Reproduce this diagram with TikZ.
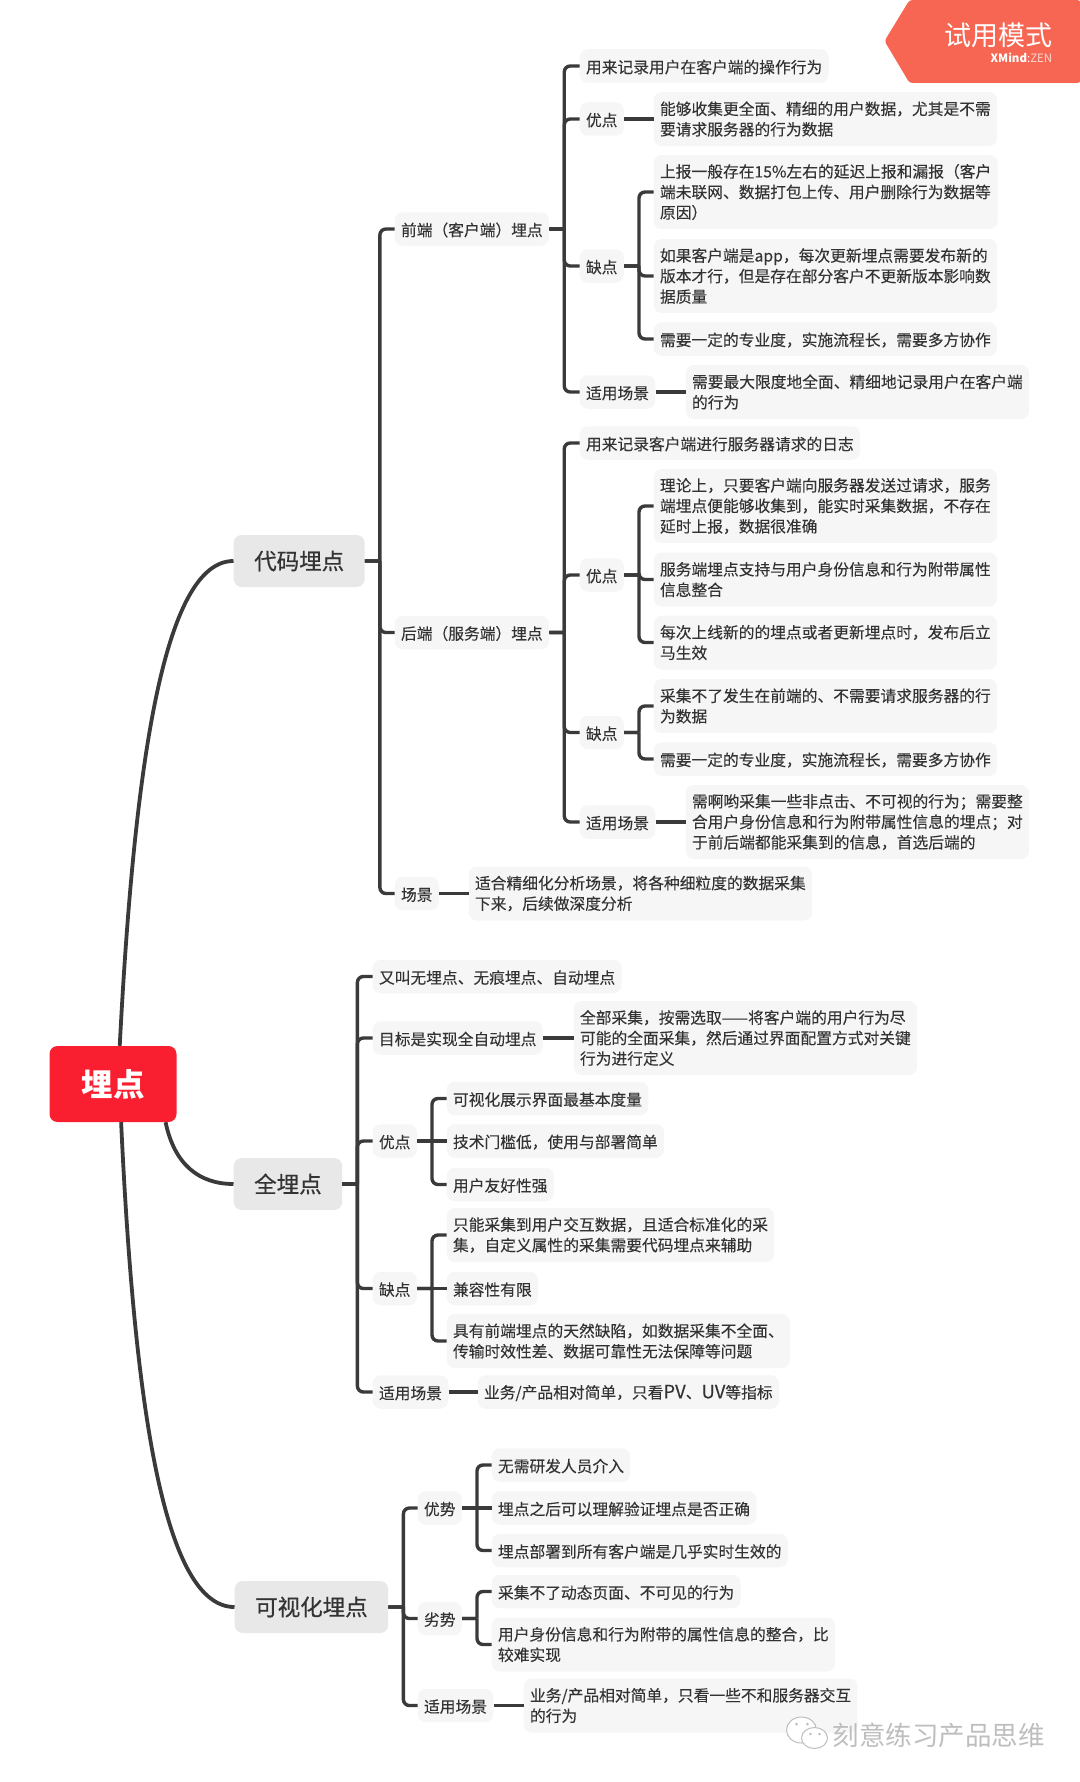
\documentclass[tikz,border=0pt]{standalone}
\usepackage{fontspec}
\setmainfont[FakeBold=0.12]{Noto Sans CJK SC}
\newfontfamily\titlefont[FakeBold=0.6]{Noto Sans CJK SC}
\newfontfamily\plainfont{Noto Sans CJK SC}
\usetikzlibrary{arrows.meta}

\definecolor{inkgray}{HTML}{333333}
\definecolor{linegray}{HTML}{3A3A3A}
\definecolor{leafgray}{HTML}{F7F6F7}
\definecolor{branchgray}{HTML}{E8E8E8}
\definecolor{rootred}{HTML}{FA1F30}
\definecolor{badgered}{HTML}{F66652}
\definecolor{markgray}{HTML}{BEBEBE}

\tikzset{
  leaf/.style={fill=leafgray, text=inkgray, rounded corners=8pt, anchor=west, align=left,
    inner xsep=6.3pt, inner ysep=0pt, minimum height=33.5pt,
    font=\fontsize{15.75}{20.5}\selectfont,
    execute at begin node={\rule{0pt}{15.5pt}}},
  two lines/.style={minimum height=54pt},
  three lines/.style={minimum height=74pt},
  branch/.style={fill=branchgray, text=inkgray, rounded corners=8pt, anchor=west,
    inner xsep=20.5pt, inner ysep=0pt, minimum height=52pt,
    font=\titlefont\fontsize{22.5}{27}\selectfont},
  link/.style={draw=linegray, line width=3.4pt, rounded corners=6pt},
  limb/.style={draw=linegray, line width=3.8pt}
}

\begin{document}
\begin{tikzpicture}[x=1pt, y=-1pt]
  \useasboundingbox (0.5,0) rectangle (1079.5,1782);

  % Centre and the three main branches
  \node[fill=rootred, text=white, rounded corners=8pt, minimum width=127pt, minimum height=76pt,
    font=\plainfont\bfseries\fontsize{31.5}{36}\selectfont] (root) at (113.5,1084) {埋点};
  \node[branch] (code) at (234,561) {代码埋点};
  \node[branch] (full) at (234,1184) {全埋点};
  \node[branch] (visual) at (235,1607) {可视化埋点};
  \draw[limb] (root.80) .. controls (135,760) and (165,561) .. (code.west);
  \draw[limb] (root.-36) .. controls (175,1165) and (200,1184) .. (full.west);
  \draw[limb] (root.-78) .. controls (135,1410) and (165,1607) .. (visual.west);

  % Code branch
  \node[leaf] (fe) at (395,229) {前端（客户端）埋点};
  \node[leaf] (be) at (395,632.5) {后端（服务端）埋点};
  \node[leaf] (codeScene) at (395,893.5) {场景};
  \node[leaf, two lines] (codeScene1) at (469,893.5) {适合精细化分析场景，将各种细粒度的数据采集\\下来，后续做深度分析};
  \draw[link] (code.east) -- ++(15,0) ++(0,0) |- (fe.west);
  \draw[link] (code.east) -- ++(15,0) ++(0,0) |- (be.west);
  \draw[link] (code.east) -- ++(15,0) ++(0,0) |- (codeScene.west);
  \draw[link] (codeScene.east) -- (codeScene1.west);

  % Front end
  \node[leaf] (feNote) at (580,66) {用来记录用户在客户端的操作行为};
  \node[leaf] (fePro) at (580,119) {优点};
  \node[leaf] (feCon) at (580,266) {缺点};
  \node[leaf] (feFit) at (580,392) {适用场景};
  \node[leaf, two lines] (fePro1) at (654,119) {能够收集更全面、精细的用户数据，尤其是不需\\要请求服务器的行为数据};
  \node[leaf, three lines] (feCon1) at (654,192) {上报一般存在15\%左右的延迟上报和漏报（客户\\端未联网、数据打包上传、用户删除行为数据等\\原因）};
  \node[leaf, three lines] (feCon2) at (654,276) {如果客户端是app，每次更新埋点需要发布新的\\版本才行，但是存在部分客户不更新版本影响数\\据质量};
  \node[leaf] (feCon3) at (654,339) {需要一定的专业度，实施流程长，需要多方协作};
  \node[leaf, two lines] (feFit1) at (686,392) {需要最大限度地全面、精细地记录用户在客户端\\的行为};
  \draw[link] (fe.east) -- ++(15,0) ++(0,0) |- (feNote.west);
  \draw[link] (fe.east) -- ++(15,0) ++(0,0) |- (fePro.west);
  \draw[link] (fe.east) -- ++(15,0) ++(0,0) |- (feCon.west);
  \draw[link] (fe.east) -- ++(15,0) ++(0,0) |- (feFit.west);
  \draw[link] (fePro.east) -- (fePro1.west);
  \draw[link] (feCon.east) -- ++(15,0) ++(0,0) |- (feCon1.west);
  \draw[link] (feCon.east) -- ++(15,0) ++(0,0) |- (feCon2.west);
  \draw[link] (feCon.east) -- ++(15,0) ++(0,0) |- (feCon3.west);
  \draw[link] (feFit.east) -- (feFit1.west);

  % Back end
  \node[leaf] (beNote) at (580,443) {用来记录客户端进行服务器请求的日志};
  \node[leaf] (bePro) at (580,575) {优点};
  \node[leaf] (beCon) at (580,732.5) {缺点};
  \node[leaf] (beFit) at (580,822) {适用场景};
  \node[leaf, three lines] (bePro1) at (654,506) {理论上，只要客户端向服务器发送过请求，服务\\端埋点便能够收集到，能实时采集数据，不存在\\延时上报，数据很准确};
  \node[leaf, two lines] (bePro2) at (654,579.5) {服务端埋点支持与用户身份信息和行为附带属性\\信息整合};
  \node[leaf, two lines] (bePro3) at (654,642.5) {每次上线新的的埋点或者更新埋点时，发布后立\\马生效};
  \node[leaf, two lines] (beCon1) at (654,706) {采集不了发生在前端的、不需要请求服务器的行\\为数据};
  \node[leaf] (beCon2) at (654,759) {需要一定的专业度，实施流程长，需要多方协作};
  \node[leaf, three lines] (beFit1) at (686,822) {需啊哟采集一些非点击、不可视的行为；需要整\\合用户身份信息和行为附带属性信息的埋点；对\\于前后端都能采集到的信息，首选后端的};
  \draw[link] (be.east) -- ++(15,0) ++(0,0) |- (beNote.west);
  \draw[link] (be.east) -- ++(15,0) ++(0,0) |- (bePro.west);
  \draw[link] (be.east) -- ++(15,0) ++(0,0) |- (beCon.west);
  \draw[link] (be.east) -- ++(15,0) ++(0,0) |- (beFit.west);
  \draw[link] (bePro.east) -- ++(15,0) ++(0,0) |- (bePro1.west);
  \draw[link] (bePro.east) -- ++(15,0) ++(0,0) |- (bePro2.west);
  \draw[link] (bePro.east) -- ++(15,0) ++(0,0) |- (bePro3.west);
  \draw[link] (beCon.east) -- ++(15,0) ++(0,0) |- (beCon1.west);
  \draw[link] (beCon.east) -- ++(15,0) ++(0,0) |- (beCon2.west);
  \draw[link] (beFit.east) -- (beFit1.west);

  % Full tracking branch
  \node[leaf] (fullNote) at (373,976.5) {又叫无埋点、无痕埋点、自动埋点};
  \node[leaf] (fullAim) at (373,1038) {目标是实现全自动埋点};
  \node[leaf] (fullPro) at (373,1141) {优点};
  \node[leaf] (fullCon) at (373,1288.5) {缺点};
  \node[leaf] (fullFit) at (373,1392) {适用场景};
  \node[leaf, three lines] (fullAim1) at (574,1038) {全部采集，按需选取——将客户端的用户行为尽\\可能的全面采集，然后通过界面配置方式对关键\\行为进行定义};
  \node[leaf] (fullPro1) at (447,1098.5) {可视化展示界面最基本度量};
  \node[leaf] (fullPro2) at (447,1141) {技术门槛低，使用与部署简单};
  \node[leaf] (fullPro3) at (447,1184.5) {用户友好性强};
  \node[leaf, two lines] (fullCon1) at (447,1235) {只能采集到用户交互数据，且适合标准化的采\\集，自定义属性的采集需要代码埋点来辅助};
  \node[leaf] (fullCon2) at (447,1288.5) {兼容性有限};
  \node[leaf, two lines] (fullCon3) at (447,1341) {具有前端埋点的天然缺陷，如数据采集不全面、\\传输时效性差、数据可靠性无法保障等问题};
  \node[leaf] (fullFit1) at (478,1392) {业务/产品相对简单，只看{\fontsize{18.5}{20.5}\selectfont PV}、{\fontsize{18.5}{20.5}\selectfont UV}等指标};
  \draw[link] (full.east) -- ++(15,0) ++(0,0) |- (fullNote.west);
  \draw[link] (full.east) -- ++(15,0) ++(0,0) |- (fullAim.west);
  \draw[link] (full.east) -- ++(15,0) ++(0,0) |- (fullPro.west);
  \draw[link] (full.east) -- ++(15,0) ++(0,0) |- (fullCon.west);
  \draw[link] (full.east) -- ++(15,0) ++(0,0) |- (fullFit.west);
  \draw[link] (fullAim.east) -- (fullAim1.west);
  \draw[link] (fullPro.east) -- ++(15,0) ++(0,0) |- (fullPro1.west);
  \draw[link] (fullPro.east) -- (fullPro2.west);
  \draw[link] (fullPro.east) -- ++(15,0) ++(0,0) |- (fullPro3.west);
  \draw[link] (fullCon.east) -- ++(15,0) ++(0,0) |- (fullCon1.west);
  \draw[link] (fullCon.east) -- (fullCon2.west);
  \draw[link] (fullCon.east) -- ++(15,0) ++(0,0) |- (fullCon3.west);
  \draw[link] (fullFit.east) -- (fullFit1.west);

  % Visual branch
  \node[leaf] (visPro) at (418,1508) {优势};
  \node[leaf] (visCon) at (418,1618.5) {劣势};
  \node[leaf] (visFit) at (418,1705.5) {适用场景};
  \node[leaf] (visPro1) at (492,1465) {无需研发人员介入};
  \node[leaf] (visPro2) at (492,1508) {埋点之后可以理解验证埋点是否正确};
  \node[leaf] (visPro3) at (492,1550.5) {埋点部署到所有客户端是几乎实时生效的};
  \node[leaf] (visCon1) at (492,1591.5) {采集不了动态页面、不可见的行为};
  \node[leaf, two lines] (visCon2) at (492,1644.5) {用户身份信息和行为附带的属性信息的整合，比\\较难实现};
  \node[leaf, two lines] (visFit1) at (524,1705.5) {业务/产品相对简单，只看一些不和服务器交互\\的行为};
  \draw[link] (visual.east) -- ++(15,0) ++(0,0) |- (visPro.west);
  \draw[link] (visual.east) -- ++(15,0) ++(0,0) |- (visCon.west);
  \draw[link] (visual.east) -- ++(15,0) ++(0,0) |- (visFit.west);
  \draw[link] (visPro.east) -- ++(15,0) ++(0,0) |- (visPro1.west);
  \draw[link] (visPro.east) -- (visPro2.west);
  \draw[link] (visPro.east) -- ++(15,0) ++(0,0) |- (visPro3.west);
  \draw[link] (visCon.east) -- ++(15,0) ++(0,0) |- (visCon1.west);
  \draw[link] (visCon.east) -- ++(15,0) ++(0,0) |- (visCon2.west);
  \draw[link] (visFit.east) -- (visFit1.west);

  % Trial badge, top right
  \fill[badgered, rounded corners=3pt] (1081,0) -- (910,0) -- (885,41) -- (910,83) -- (1081,83) -- cycle;
  \node[text=white, anchor=east, inner sep=0pt, font=\plainfont\fontsize{27}{30}\selectfont] (badge) at (1053,35) {试用模式};
  \node[text=white, anchor=east, inner sep=0pt, font=\plainfont\fontsize{11.5}{13}\selectfont] (badgeSub) at (1053,58) {\textbf{XMind}:{\color{white!75!badgered}ZEN}};

  % Watermark, bottom right
  \draw[markgray, fill=white, line width=1pt] (802,1730) ellipse (15 and 13);
  \draw[markgray, fill=white, line width=1pt] (815,1738) ellipse (13 and 10.5);
  \fill[markgray] (797,1724) circle (1.5) (808,1724) circle (1.5) (811,1734) circle (1.3) (820,1734) circle (1.3);
  \node[text=markgray, anchor=west, inner sep=0pt, font=\plainfont\fontsize{26.5}{30}\selectfont] (mark) at (833,1735) {刻意练习产品思维};
\end{tikzpicture}
\end{document}
